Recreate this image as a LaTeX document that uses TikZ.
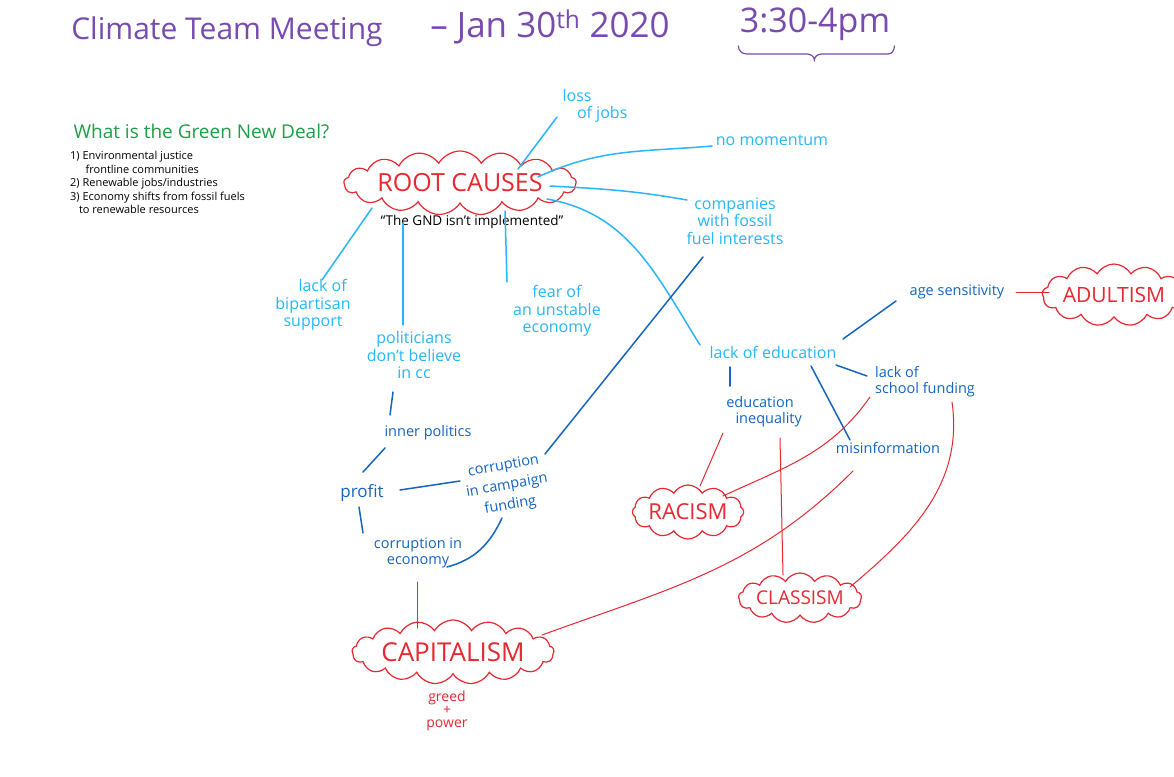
\documentclass[tikz,border=0pt]{standalone}
\usepackage{fontspec}
\setmainfont{Open Sans}
\usetikzlibrary{shapes.symbols}
\definecolor{lblue}{RGB}{41,182,246}
\definecolor{dblue}{RGB}{21,101,192}
\definecolor{cred}{RGB}{229,40,50}
\definecolor{cpurple}{RGB}{120,75,175}
\definecolor{cgreen}{RGB}{30,158,70}
\tikzset{
  lb/.style={text=lblue, font=\fontsize{16}{17.5}\selectfont, align=center, inner sep=2pt},
  db/.style={text=dblue, font=\fontsize{14.5}{16}\selectfont, align=center, inner sep=2pt},
  rcloud/.style={cloud, cloud puffs=17, cloud puff arc=120, cloud ignores aspect, draw=cred, line width=1.2pt, text=cred, inner sep=0pt},
  lline/.style={draw=lblue, line width=1.5pt, line cap=round},
  dline/.style={draw=dblue, line width=1.5pt, line cap=round},
  rline/.style={draw=cred, line width=1pt, line cap=round},
}
\begin{document}
\begin{tikzpicture}[x=1pt,y=-1pt]
\useasboundingbox[fill=white] (0,0) rectangle (1174,776);
% title
\node[text=cpurple, font=\fontsize{30}{32}\selectfont] (t1) at (227,32) {Climate Team Meeting};
\node[text=cpurple, font=\fontsize{35}{37}\selectfont] (t2) at (550,27) {-- Jan 30\textsuperscript{th} 2020};
\node[text=cpurple, font=\fontsize{34}{36}\selectfont] (t3) at (815,24) {3:30-4pm};
\draw[cpurple, line width=1.2pt, line cap=round] ([xshift=2pt,yshift=-2pt]t3.south west) to[out=-90,in=180] ++(8,8) -- ++(60,0) to[out=0,in=90] ++(8,6) to[out=90,in=180] ++(8,-6) -- ++(66,0) to[out=0,in=-90] ++(6,-8);
% green new deal
\node[text=cgreen, font=\fontsize{19}{20}\selectfont, anchor=west] (gnd) at (70,131) {What is the Green New Deal?};
\node[anchor=north west, font=\fontsize{11}{13.5}\selectfont, align=left, inner sep=0pt] (list) at (70,151)
 {1) Environmental justice\\\hspace{1.4em}frontline communities\\2) Renewable jobs/industries\\3) Economy shifts from fossil fuels\\\hspace{0.8em}to renewable resources};
% root causes
\node[rcloud, minimum width=192pt, minimum height=64pt, font=\fontsize{25}{26}\selectfont] (rc) at (460,183) {ROOT CAUSES};
\node[font=\fontsize{13.5}{14}\selectfont, inner sep=1pt] (gnd2) at (472,222) {``The GND isn't implemented''};
% light blue
\node[lb, align=left] (loss) at (595,106) {loss\\\hspace{0.9em}of jobs};
\node[lb] (nomom) at (772,140) {no momentum};
\node[lb] (comp) at (735,221) {companies\\with fossil\\fuel interests};
\node[lb] (lob) at (313,305) {\hspace{1.2em}lack of\\bipartisan\\support\hspace{1.5em}};
\node[lb] (pol) at (414,355) {politicians\\don't believe\\in cc\hspace{4.2em}};
\node[lb] (fear) at (557,311) {fear of\hspace{1.6em}\\an unstable\\economy};
\node[lb] (loe) at (773,352) {lack of education};
% dark blue
\node[db] (inner) at (428,433) {inner politics};
\node[db, font=\fontsize{17}{18}\selectfont] (profit) at (362,493) {profit};
\node[db, rotate=10, font=\fontsize{14.5}{20}\selectfont] (ccf) at (507,486) {corruption\\in campaign\\funding};
\node[db] (cie) at (418,553) {corruption in\\economy};
\node[db] (ages) at (957,292) {age sensitivity};
\node[db, align=left] (lsf) at (925,382) {lack of\\school funding};
\node[db] (edin) at (760,412) {education\\\hspace{1.2em}inequality};
\node[db] (misinfo) at (888,448) {misinformation};
% red clouds
\node[rcloud, minimum width=190pt, minimum height=64pt, font=\fontsize{26}{27}\selectfont] (cap) at (453,652) {CAPITALISM};
\node[text=cred, font=\fontsize{14}{13}\selectfont, align=center] (greed) at (447,711) {greed\\+\\power};
\node[rcloud, cloud puffs=13, minimum width=122pt, minimum height=62pt, font=\fontsize{21}{22}\selectfont] (adult) at (1114,295) {ADULTISM};
\node[rcloud, cloud puffs=12, minimum width=104pt, minimum height=54pt, font=\fontsize{22}{23}\selectfont] (racism) at (688,512) {RACISM};
\node[rcloud, cloud puffs=13, minimum width=116pt, minimum height=50pt, font=\fontsize{19}{20}\selectfont] (classism) at (800,598) {CLASSISM};
% light blue connectors
\draw[lline] ([shift={(58,-14)}]rc.center) -- ([shift={(-38,11)}]loss.center);
\draw[lline] ([shift={(78,-6)}]rc.center) to[out=25,in=185] ([shift={(-60,6)}]nomom.center);
\draw[lline] ([shift={(90,3)}]rc.center) to[out=-3,in=170] ([shift={(-48,-21)}]comp.center);
\draw[lline] ([shift={(87,16)}]rc.center) to[out=-10,in=122] ([shift={(-73,-7)}]loe.center);
\draw[lline] ([shift={(-88,25)}]rc.center) -- ([shift={(9,-25)}]lob.center);
\draw[lline] ([shift={(-57,40)}]rc.center) -- ([shift={(-11,-30)}]pol.center);
\draw[lline] ([shift={(45,28)}]rc.center) -- ([shift={(-50,-29)}]fear.center);
% dark blue connectors
\draw[dline] ([shift={(-21,37)}]pol.center) -- ([shift={(-38,-18)}]inner.center);
\draw[dline] ([shift={(-43,15)}]inner.center) -- ([shift={(1,-21)}]profit.center);
\draw[dline] ([shift={(38,-3)}]profit.center) -- ([shift={(-47,-5)}]ccf.center);
\draw[dline] ([shift={(38,-32)}]ccf.center) -- ([shift={(-32,36)}]comp.center);
\draw[dline] ([shift={(-3,14)}]profit.center) -- ([shift={(-55,-20)}]cie.center);
\draw[dline] ([shift={(-5,32)}]ccf.center) to[out=-115,in=15] ([shift={(29,14)}]cie.center);
\draw[dline] ([shift={(70,-13)}]loe.center) -- ([shift={(-61,9)}]ages.center);
\draw[dline] ([shift={(-43,15)}]loe.center) -- ([shift={(-30,-26)}]edin.center);
\draw[dline] ([shift={(38,14)}]loe.center) -- ([shift={(-38,-8)}]misinfo.center);
\draw[dline] ([shift={(63,13)}]loe.center) -- ([shift={(-58,-6)}]lsf.center);
% red connectors
\draw[rline] ([shift={(59,0)}]ages.center) -- ([shift={(-65,-3)}]adult.center);
\draw[rline] ([shift={(-37,21)}]edin.center) -- ([shift={(12,-26)}]racism.center);
\draw[rline] ([shift={(-55,15)}]lsf.center) to[out=-125,in=25] ([shift={(35,-16)}]racism.center);
\draw[rline] ([shift={(20,26)}]edin.center) -- ([shift={(-17,-23)}]classism.center);
\draw[rline] ([shift={(27,20)}]lsf.center) to[out=-82,in=40] ([shift={(50,-11)}]classism.center);
\draw[rline] ([shift={(-35,23)}]misinfo.center) to[out=-135,in=20] ([shift={(89,-17)}]cap.center);
\draw[rline] ([shift={(-1,29)}]cie.center) -- ([shift={(-36,-24)}]cap.center);
\end{tikzpicture}
\end{document}
